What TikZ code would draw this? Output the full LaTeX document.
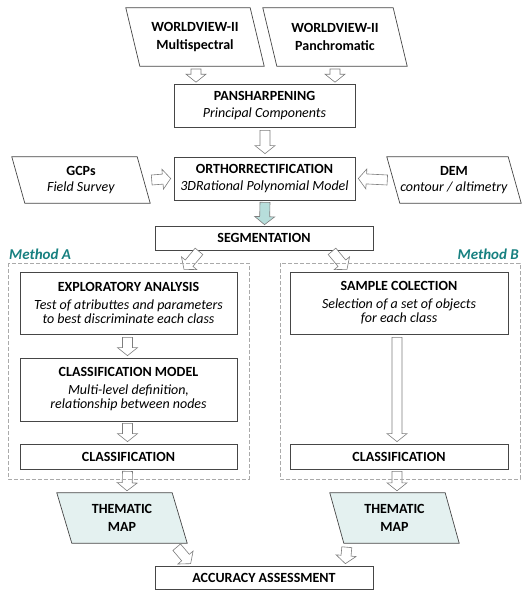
\documentclass[tikz,border=0pt]{standalone}
\usepackage{fontspec}
\setmainfont{Carlito}
\usetikzlibrary{calc}
\definecolor{tealtxt}{RGB}{23,128,128}
\definecolor{aqua}{RGB}{183,222,219}
\definecolor{mapfill}{RGB}{228,241,240}
\definecolor{edgec}{RGB}{70,70,70}
\definecolor{arredge}{RGB}{125,125,125}
\definecolor{dashc}{RGB}{170,170,170}
\pgfdeclarelayer{bg}
\pgfsetlayers{bg,main}
\tikzset{
  box/.style={draw=edgec, line width=0.7pt, fill=white, align=center, inner sep=0pt, font=\fontsize{14}{15.5}\selectfont},
  ptext/.style={align=center, inner sep=0pt, font=\fontsize{14}{15.5}\selectfont},
  pedge/.style={draw=edgec, line width=0.7pt},
  barrowline/.style={draw=arredge, line width=0.6pt, line join=miter},
  dashbox/.style={draw=dashc, line width=0.9pt, dash pattern=on 4pt off 2pt},
  method/.style={text=tealtxt, font=\fontsize{15}{17}\selectfont\bfseries\itshape, inner sep=0pt}
}
\newcommand\barrow[3][white]{%
  \coordinate (ba) at (#2);
  \coordinate (bb) at (#3);
  \coordinate (bh) at ($(bb)!8pt!(ba)$);
  \draw[barrowline, fill=#1] ($(ba)!5pt!90:(bb)$) -- ($(bh)!5pt!90:(bb)$) -- ($(bh)!10pt!90:(bb)$) -- (bb)
     -- ($(bh)!10pt!-90:(bb)$) -- ($(bh)!5pt!-90:(bb)$) -- ($(ba)!5pt!-90:(bb)$) -- cycle;
}
% parallelogram around a node: name, slant(half), fill
\newcommand\paraframe[3]{%
  \begin{pgfonlayer}{bg}
  \draw[pedge, fill=#3] ($(#1.north west)+(-#2,0)$) -- ($(#1.north east)+(-#2,0)$)
     -- ($(#1.south east)+(#2,0)$) -- ($(#1.south west)+(#2,0)$) -- cycle;
  \end{pgfonlayer}
}
\begin{document}
\begin{tikzpicture}[x=1pt, y=-1pt]
\useasboundingbox (0,0) rectangle (523,592);

% inputs
\node[ptext, minimum width=124pt, minimum height=58pt] (ms) at (195,37) {\textbf{WORLDVIEW-II}\\[3pt]\textbf{Multispectral}};
\paraframe{ms}{7}{white}
\node[ptext, minimum width=130pt, minimum height=58pt] (pan) at (335,37) {\textbf{WORLDVIEW-II}\\[3pt]\textbf{Panchromatic}};
\paraframe{pan}{7}{white}

\node[box, minimum width=181pt, minimum height=43pt] (pans) at (264.5,105.5) {\textbf{PANSHARPENING}\\[2pt]\textit{Principal Components}};
\node[box, minimum width=181pt, minimum height=43pt] (ortho) at (264.5,178.5) {\textbf{ORTHORRECTIFICATION}\\[2pt]\textit{3DRational Polynomial Model}};

\node[ptext, minimum width=125pt, minimum height=46pt] (gcp) at (81,180) {\textbf{GCPs}\\[1pt]\textit{Field Survey}};
\paraframe{gcp}{6.5}{white}
\node[ptext, minimum width=121pt, minimum height=46pt] (dem) at (454,180) {\textbf{DEM}\\[1pt]\textit{contour / altimetry}};
\paraframe{dem}{6.5}{white}

\node[box, minimum width=218pt, minimum height=24pt] (seg) at (264,238) {\textbf{SEGMENTATION}};

% method labels
\node[method, anchor=south west] (ma) at (9,260) {Method A};
\node[method, anchor=south east] (mb) at (519,260) {Method B};

% method A
\node[box, minimum width=217pt, minimum height=62pt] (expl) at (128.5,303) {\textbf{EXPLORATORY ANALYSIS}\\[2pt]\textit{Test of atributtes and parameters}\\[-1pt]\textit{to best discriminate each class}};
\node[box, minimum width=217pt, minimum height=63pt] (cmod) at (128.5,389.5) {\textbf{CLASSIFICATION MODEL}\\[2pt]\textit{Multi-level definition,}\\[-1pt]\textit{relationship between nodes}};
\node[box, minimum width=217pt, minimum height=25pt] (clsA) at (128.5,456.5) {\textbf{CLASSIFICATION}};

% method B
\node[box, minimum width=218pt, minimum height=62pt] (samp) at (399,303) {\textbf{SAMPLE COLECTION}\\[2pt]\textit{Selection of a set of objects}\\[-1pt]\textit{for each class}};
\node[box, minimum width=218pt, minimum height=25pt] (clsB) at (399,456.5) {\textbf{CLASSIFICATION}};

% thematic maps
\node[ptext, minimum width=115pt, minimum height=50pt] (thA) at (122,518) {\textbf{THEMATIC}\\[2pt]\textbf{MAP}};
\paraframe{thA}{7.5}{mapfill}
\node[ptext, minimum width=115pt, minimum height=50pt] (thB) at (394.5,518) {\textbf{THEMATIC}\\[2pt]\textbf{MAP}};
\paraframe{thB}{7}{mapfill}

\node[box, minimum width=218pt, minimum height=23pt] (acc) at (264,577.5) {\textbf{ACCURACY ASSESSMENT}};

% arrows
\barrow{196,69}{$(ms.south)+(1,16)$}
\barrow{335,69}{$(pan.south)+(0,16)$}
\barrow{$(pans.south)+(0.5,3)$}{$(ortho.north)+(0.5,-3)$}
\barrow{$(gcp.east)+(8,0)$}{$(ortho.west)+(-3,0)$}
\barrow{$(dem.west)+(-6,0)$}{$(ortho.east)+(3,0)$}
\barrow[aqua]{$(ortho.south)+(0.5,2)$}{$(seg.north)+(0.5,-1)$}
\barrow{$(seg.south)+(-65,1)$}{$(seg.south)+(-80,19)$}
\barrow{$(seg.south)+(68,1)$}{$(seg.south)+(83,19)$}
\barrow{$(expl.south)+(-1,3)$}{$(cmod.north)+(-1,-2)$}
\barrow{$(cmod.south)+(-1,2)$}{$(clsA.north)+(-1,-2)$}
\barrow{$(samp.south)+(-2,3)$}{$(clsB.north)+(-2,-2)$}
\barrow{$(clsA.south)+(-1,2)$}{$(thA.north)+(5,-2)$}
\barrow{$(clsB.south)+(-2,2)$}{$(thB.north)+(2.5,-2)$}
\barrow{$(thA.south east)+(-3,4)$}{$(acc.north west)+(36,-2)$}
\barrow{$(thB.south west)+(10,4)$}{$(acc.north east)+(-28,-2)$}

% dashed method frames
\draw[dashbox] (8,263) rectangle (249,479);
\draw[dashbox] (280,263) rectangle (520,479);
\end{tikzpicture}
\end{document}
